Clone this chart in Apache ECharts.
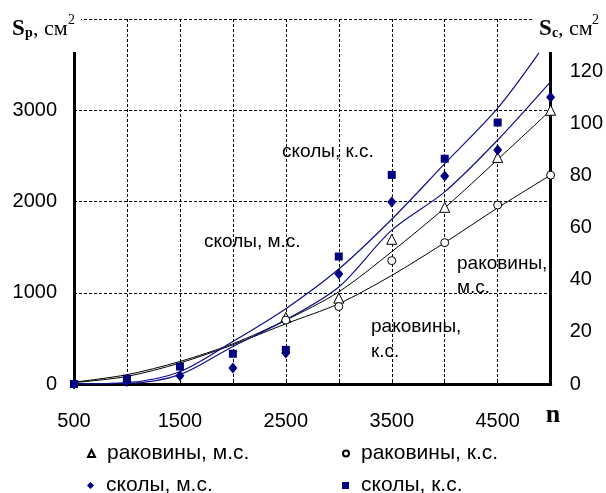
<!DOCTYPE html>
<html><head><meta charset="utf-8">
<script src="https://cdn.jsdelivr.net/npm/echarts@6/dist/echarts.min.js"></script>
<style>html,body{margin:0;padding:0;background:#fff}#c{width:606px;height:493px}</style>
</head><body><div id="c"></div>
<script>
// ---- data ----
const nValues = [500, 1000, 1500, 2000, 2500, 3000, 3500, 4000, 4500, 5000];
const xTickLabels = ['500', '1500', '2500', '3500', '4500'];
const leftTickLabels = ['0', '1000', '2000', '3000'];
const rightTickLabels = ['0', '20', '40', '60', '80', '100', '120'];
const seriesNames = ['раковины, м.с.', 'раковины, к.с.', 'сколы, м.с.', 'сколы, к.с.'];
// measured points
const rakMsPoints = [null, null, null, null, 730, 941, 1586, 1936, 2483, 3000];   // Sp, left axis
const rakKsPoints = [null, null, null, null, 700, 849, 1352, 1549, 1961, 2289];   // Sp, left axis
const skMsPoints = [0, 1, 3.2, 6.1, 11.9, 42.2, 69.8, 79.8, 89.8, 110];            // Sc, right axis
const skKsPoints = [0, 2, 6.7, 11.6, 13.1, 48.9, 80.2, 86.4, 100.3, null];         // Sc, right axis
// trend lines
const rakMsTrend = [20, 102, 247, 441, 700, 1010, 1450, 1930, 2460, 3000];
const rakKsTrend = [15, 83, 230, 430, 660, 880, 1190, 1549, 1930, 2290];
const skMsTrendN = [500, 1000, 1500, 2000, 2500, 3000, 3500, 4000, 4500, 5000];
const skMsTrend = [0, 0.2, 3.6, 14.4, 24.6, 37.2, 59, 73.7, 93.6, 116];
const skKsTrendN = [500, 1000, 1500, 2000, 2500, 3000, 3500, 4000, 4500, 4890];
const skKsTrend = [0, 0.5, 4.7, 16.3, 28.9, 44.1, 63.2, 84.5, 105.8, 127];

const zip = (xs, ys) => xs.map((x, i) => [x, ys[i]]).filter(p => p[1] !== null);

const SANS = '"Liberation Sans", Arial, sans-serif';
const SERIF = '"Liberation Serif", "Times New Roman", serif';
const NAVY = '#000080';
const dashed = { type: [3, 2], color: '#000', width: 1 };

const chart = echarts.init(document.getElementById('c'), null, { renderer: 'canvas' });

function legendFor(name, left, top, size) {
  return {
    data: [name], left: left, top: top, orient: 'horizontal',
    itemWidth: size, itemHeight: size, itemGap: 0, padding: 0, selectedMode: false,
    textStyle: { fontSize: 21, fontFamily: SANS, color: '#000', padding: [0, 0, 0, 7] }
  };
}

function stxt(text, x, y, size, weight, family, align) {
  return { type: 'text', x: x, y: y, z: 101,
    style: { text: text, fontSize: size, fontWeight: weight || 'normal', fontFamily: family || SANS,
      fill: '#000', align: align || 'left', verticalAlign: 'middle' } };
}

const option = {
  backgroundColor: '#fff',
  animation: false,
  grid: { left: 74, right: 52, top: 19, bottom: 109, containLabel: false },
  xAxis: {
    type: 'value', min: 500, max: 5000, interval: 500,
    axisLine: { show: true, onZero: false, lineStyle: { color: '#000', width: 3 } },
    axisTick: { show: true, inside: true, length: 5, lineStyle: { color: '#000', width: 1 } },
    axisLabel: { margin: 27, fontSize: 20, fontFamily: SANS, color: '#000',
      formatter: v => xTickLabels.includes(String(v)) ? String(v) : '' },
    splitLine: { show: true, lineStyle: dashed }
  },
  yAxis: [
    {
      type: 'value', min: 0, max: 4000, interval: 1000, position: 'left',
      axisLine: { show: true, onZero: false, lineStyle: { color: '#000', width: 3 } },
      axisTick: { show: false },
      axisLabel: { margin: 17, fontSize: 20, fontFamily: SANS, color: '#000',
        formatter: v => leftTickLabels.includes(String(v)) ? String(v) : '' },
      splitLine: { show: true, lineStyle: dashed }
    },
    {
      type: 'value', min: 0, max: 140, interval: 20, position: 'right',
      axisLine: { show: true, onZero: false, lineStyle: { color: '#000', width: 3 } },
      axisTick: { show: false },
      axisLabel: { margin: 19, fontSize: 20, fontFamily: SANS, color: '#000',
        formatter: v => rightTickLabels.includes(String(v)) ? String(v) : '' },
      splitLine: { show: false }
    }
  ],
  legend: [
    legendFor(seriesNames[0], 87, 443, 7),
    legendFor(seriesNames[1], 342, 443, 6),
    legendFor(seriesNames[2], 87, 475, 7),
    legendFor(seriesNames[3], 342, 475, 7)
  ],
  series: [
    { type: 'line', name: 'тренд 1', yAxisIndex: 0, data: zip(nValues, rakMsTrend), symbol: 'none',
      smooth: 0.3, silent: true, z: 2, lineStyle: { color: '#000', width: 1 } },
    { type: 'line', name: 'тренд 2', yAxisIndex: 0, data: zip(nValues, rakKsTrend), symbol: 'none',
      smooth: 0.3, silent: true, z: 2, lineStyle: { color: '#000', width: 1 } },
    { type: 'line', name: 'тренд 3', yAxisIndex: 1, data: zip(skMsTrendN, skMsTrend), symbol: 'none',
      smooth: 0.3, silent: true, z: 2, lineStyle: { color: '#10108c', width: 1.2 } },
    { type: 'line', name: 'тренд 4', yAxisIndex: 1, data: zip(skKsTrendN, skKsTrend), symbol: 'none',
      smooth: 0.3, silent: true, z: 2, lineStyle: { color: '#10108c', width: 1.2 } },
    { type: 'scatter', name: seriesNames[0], yAxisIndex: 0, data: zip(nValues, rakMsPoints),
      symbol: 'triangle', symbolSize: 10, z: 5,
      itemStyle: { color: '#fff', borderColor: '#000', borderWidth: 1, opacity: 1 } },
    { type: 'scatter', name: seriesNames[1], yAxisIndex: 0, data: zip(nValues, rakKsPoints),
      symbol: 'circle', symbolSize: 8, z: 5,
      itemStyle: { color: '#fff', borderColor: '#000', borderWidth: 1, opacity: 1 } },
    { type: 'scatter', name: seriesNames[2], yAxisIndex: 1, data: zip(nValues, skMsPoints),
      symbol: 'diamond', symbolSize: [9, 11], z: 5,
      itemStyle: { color: NAVY, opacity: 1 } },
    { type: 'scatter', name: seriesNames[3], yAxisIndex: 1, data: zip(nValues, skKsPoints),
      symbol: 'rect', symbolSize: 8, z: 5,
      itemStyle: { color: NAVY, opacity: 1 } }
  ],
  graphic: [
    { type: 'rect', z: 90, shape: { x: 0, y: 0, width: 81, height: 52 }, style: { fill: '#fff' } },
    { type: 'rect', z: 90, shape: { x: 534, y: 0, width: 72, height: 52 }, style: { fill: '#fff' } },
    // left axis title
    stxt('S', 12, 29.3, 23, 'bold', SERIF),
    stxt('p', 25, 33.5, 14, 'bold', SERIF),
    stxt(', см', 33, 29.5, 22, 'normal', SERIF),
    stxt('2', 68, 20.5, 14, 'normal', SERIF),
    // right axis title
    stxt('S', 539, 29.3, 23, 'bold', SERIF),
    stxt('c', 552, 33.5, 14, 'bold', SERIF),
    stxt(', см', 558, 29.5, 22, 'normal', SERIF),
    stxt('2', 592, 20.5, 14, 'normal', SERIF),
    // n
    stxt('n', 553, 415, 26, 'bold', SERIF, 'center'),
    // annotations
    stxt('сколы, к.с.', 282, 152, 19),
    stxt('сколы, м.с.', 204, 242, 19),
    stxt('раковины,', 457, 264, 19),
    stxt('м.с.', 457, 288, 19),
    stxt('раковины,', 371, 327, 19),
    stxt('к.с.', 371, 352, 19)
  ]
};
chart.setOption(option);
</script>
</body></html>
